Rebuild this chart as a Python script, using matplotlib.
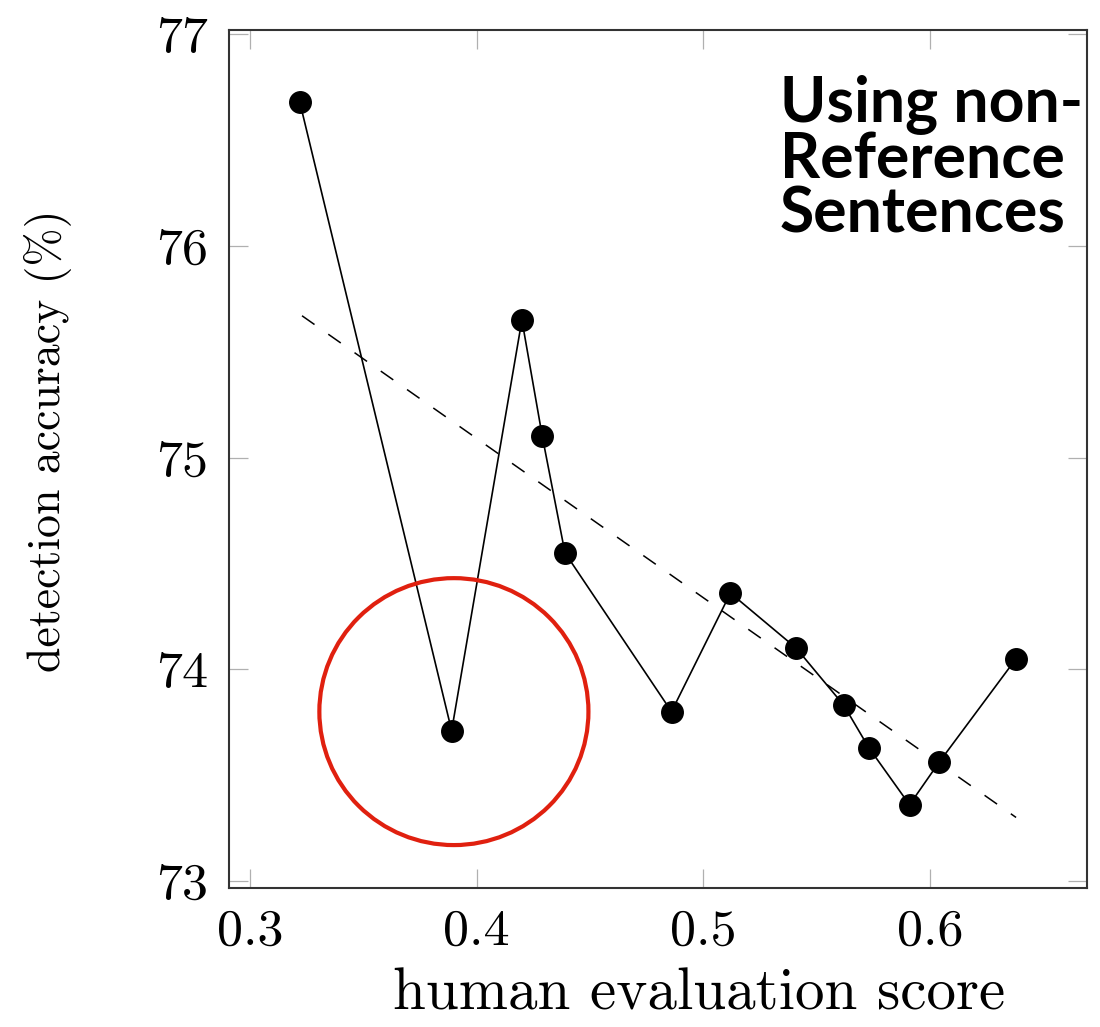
import matplotlib
matplotlib.use("Agg")
import matplotlib.pyplot as plt
from matplotlib.patches import Ellipse

# values
human_score = [0.322, 0.389, 0.420, 0.429, 0.439, 0.486, 0.512,
               0.541, 0.562, 0.573, 0.591, 0.604, 0.638]
accuracy = [76.68, 73.71, 75.65, 75.10, 74.55, 73.80, 74.36,
            74.10, 73.83, 73.63, 73.36, 73.56, 74.05]

# dashed trend line end points
trend_x = [0.323, 0.638]
trend_y = [75.67, 73.30]

# highlighted outlier (red ring)
ring_center = (0.390, 73.80)
ring_size = (0.1187, 1.261)

x_ticks = [0.3, 0.4, 0.5, 0.6]
y_ticks = [73, 74, 75, 76, 77]
note = "Using non-\nReference\nSentences"

plt.rcParams["font.family"] = "serif"
plt.rcParams["font.serif"] = ["cmr10"]
plt.rcParams["mathtext.fontset"] = "cm"
plt.rcParams["axes.formatter.use_mathtext"] = True

fig = plt.figure(figsize=(11, 10.27), dpi=100)
ax = fig.add_axes([0.208, 0.1354, 0.780, 0.8354])

ax.plot(human_score, accuracy, color="black", lw=1.2, marker="o",
        markersize=15.5, markerfacecolor="black", markeredgecolor="black")
ax.plot(trend_x, trend_y, color="black", lw=1.1, dashes=(10, 11))

ring = Ellipse(ring_center, ring_size[0], ring_size[1], fill=False,
               edgecolor="#e0200f", lw=3.0, zorder=5)
ax.add_patch(ring)

ax.set_xlim(0.2907, 0.6692)
ax.set_ylim(72.967, 77.02)
ax.set_xticks(x_ticks)
ax.set_yticks(y_ticks)
ax.set_xticklabels([f"{t:.1f}" for t in x_ticks])
ax.set_yticklabels([str(t) for t in y_ticks])
ax.tick_params(direction="in", length=14, width=0.9, color="#b0b0b0",
               top=True, right=True, labelsize=37.5, pad=15)
for sp in ax.spines.values():
    sp.set_linewidth(1.5)
    sp.set_color("#333333")

fig.text(0.636, 0.032, "human evaluation score", fontsize=42.5,
         ha="center", va="center")
fig.text(0.044, 0.571, "detection accuracy (%)", fontsize=33,
         ha="center", va="center", rotation=90)

fig.text(0.709, 0.928, note, fontsize=45, fontweight="bold", family="Lato",
         ha="left", va="top", linespacing=0.93)

fig.savefig("out.png", dpi=100)
